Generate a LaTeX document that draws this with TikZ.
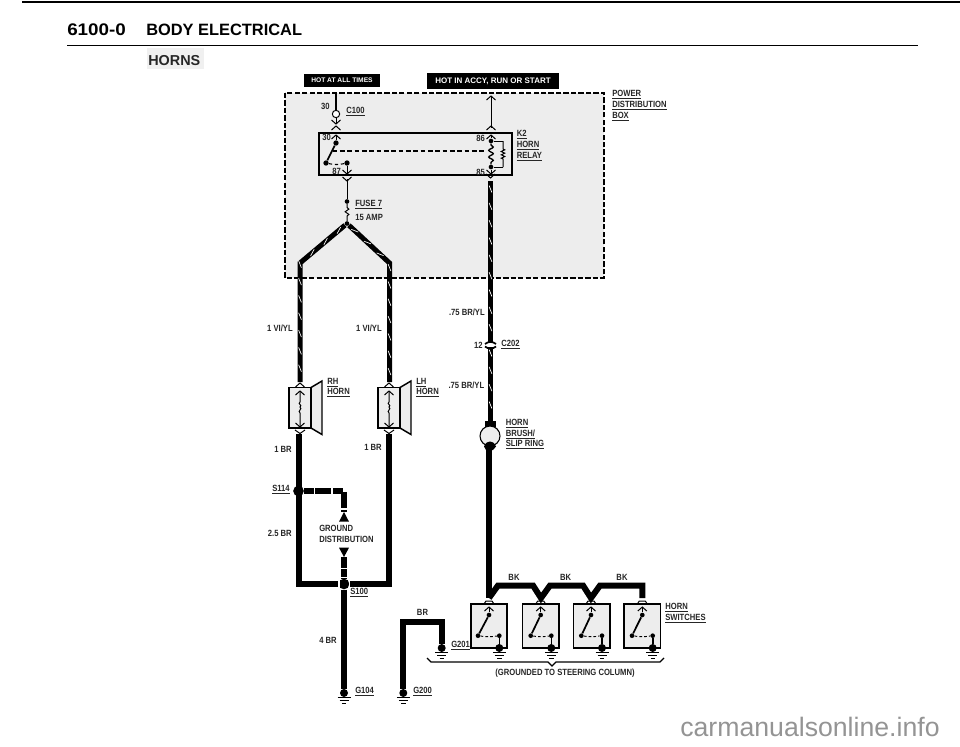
\documentclass[tikz,border=0pt]{standalone}
\usepackage{fontspec}
\setmainfont{Liberation Sans}
\newfontfamily\labf{Liberation Sans}[FakeStretch=.85]
\newfontfamily\numf{Liberation Sans}[FakeStretch=1.12]
\usetikzlibrary{decorations.markings,decorations.pathmorphing}
\definecolor{boxgray}{gray}{.93}
\definecolor{wm}{gray}{.58}
\tikzset{
  thin wire/.style={line width=.75pt,black},
  solid wire/.style={line width=4.5pt,black,line join=miter},
  stripe wire/.style={line width=3.75pt,black,postaction={decorate},decoration={markings,
     mark=between positions 6pt and -3pt step 13pt with {\draw[white,line width=.5pt] (-3.5,1.4)--(3.5,-1.4);}}},
  lbl/.style={font=\labf\bfseries\fontsize{6.75pt}{7pt}\selectfont,inner sep=0pt,text=black!85},
  dot/.style={circle,fill=black,inner sep=0pt,minimum size=#1},
  gbar/.style={line width=.75pt},
  framebox/.style={draw=black,line width=1.1pt,fill=boxgray},
  tag/.style={fill=black,text=white,inner sep=0pt,font=\bfseries\fontsize{#1}{#1}\selectfont}
}
\newcommand\lb[4][west]{\node[lbl,anchor=#1] (#2) at (#3) {#4};}
\newcommand\ulb[4][west]{\node[lbl,anchor=#1] (#2) at (#3) {\underline{#4}};}
\newcommand\chvu[2]{\draw[thin wire] (#1-4.5,#2+4)--(#1,#2)--(#1+4.5,#2+4);}
\newcommand\chvd[2]{\draw[thin wire] (#1-4.5,#2-4)--(#1,#2)--(#1+4.5,#2-4);}
\newcommand\gnd[3]{% name x y(centre of dot)
  \node[dot=6pt] (#1) at (#2,#3) {};
  \draw[gbar] (#2-6.5,#3+4.5)--(#2+6.5,#3+4.5);
  \draw[gbar] (#2-4.5,#3+7.5)--(#2+4.5,#3+7.5);
  \draw[gbar] (#2-2.2,#3+10.5)--(#2+2.2,#3+10.5);}
\begin{document}
\begin{tikzpicture}[x=.75pt,y=-.75pt]
\useasboundingbox (0,0) rectangle (960,746);
% header
\coordinate (r1a) at (22,2); \coordinate (r1b) at (960,2);
\draw[line width=1.6pt] (r1a)--(r1b);
\node[anchor=west,inner sep=0pt,font=\numf\bfseries\fontsize{12.6pt}{15pt}\selectfont] (title0) at (67,30) {6100-0};
\node[anchor=west,inner sep=0pt,font=\bfseries\fontsize{12.3pt}{13pt}\selectfont] (title) at (146,30) {BODY ELECTRICAL};
\coordinate (r2a) at (67,45.5); \coordinate (r2b) at (918,45.5);
\draw[line width=1.1pt] (r2a)--(r2b);
\fill[gray!12] (147,48) rectangle (204,69);
\node[anchor=west,inner sep=0pt,font=\bfseries\fontsize{10.8pt}{11pt}\selectfont,text=black!85] (horns) at (148,61) {HORNS};
% top tags
\node[tag=5pt,minimum width=57pt,minimum height=9.6pt] (hot1) at (342,80.5) {HOT AT ALL TIMES};
\node[tag=6pt,minimum width=99pt,minimum height=12pt] (hot2) at (493,81) {HOT IN ACCY, RUN OR START};
% power distribution box
\draw[fill=boxgray,draw=black,line width=1.2pt,dash pattern=on 4pt off 1.6pt] (285,93) rectangle (604,278);
\coordinate (pdbtopL) at (336,93);
\coordinate (pdbtopR) at (491,96);
\ulb{pd1}{612,95}{POWER}\ulb{pd2}{612,105.5}{DISTRIBUTION}\ulb{pd3}{612,117}{BOX}
% C100
\node[circle,draw=black,fill=white,line width=.75pt,inner sep=0pt,minimum size=5.5pt] (c100) at (336,114) {};
\coordinate (c100b) at (336,124);
\draw[line width=1pt] (pdbtopL)--(c100);
\draw[thin wire] (c100)--(c100b);
\chvd{336}{124}\chvu{336}{126}
\lb[east]{t30a}{330,106}{30}
\ulb{lc100}{346,112}{C100}
% right feed
\coordinate (k2in) at (491,128);
\draw[thin wire] (pdbtopR)--(k2in);
\chvu{491}{96}\chvu{491}{126}
% relay
\draw[draw=black,line width=1.1pt,fill=boxgray] (319,133) rectangle (512,175);
\ulb{k1}{516.5,135}{K2}\ulb{k2}{516.5,146}{HORN}\ulb{k3}{516.5,157}{RELAY}
\lb{t30b}{322,137}{30}\lb{t86}{476,138.5}{86}\lb{t85}{476,172}{85}\lb{t87}{332,171.5}{87}
% switch in relay
\node[dot=4pt] (s1) at (336,143) {};
\node[dot=4pt] (s2) at (326,163) {};
\node[dot=4pt] (s3) at (347,163) {};
\coordinate (r30) at (336,135); \coordinate (r87) at (347,174);
\coordinate (armm) at (332.5,151); \coordinate (dashe) at (486,151);
\draw[thin wire] (r30)--(s1);
\chvu{336}{135}
\draw[line width=1.3pt] (s1)--(s2);
\draw[line width=.8pt,dash pattern=on 2.5pt off 2pt] (s2) to[bend right=12] (s3);
\draw[thin wire] (s3)--(r87);
\chvd{347}{174}
\draw[line width=.8pt,dash pattern=on 3.5pt off 2pt] (armm)--(dashe);
% coil
\node[dot=3.5pt] (c1) at (491,141) {};
\node[dot=3.5pt] (c2) at (491,167) {};
\coordinate (r86) at (491,135); \coordinate (r85) at (491,174);
\coordinate (par1) at (503,141); \coordinate (par2) at (503,167);
\draw[thin wire] (r86)--(c1) (c2)--(r85);
\chvu{491}{135}\chvd{491}{174}
\draw[line width=1pt,decorate,decoration={snake,segment length=5pt,amplitude=1.7pt,pre length=1pt,post length=1pt}] (c1)--(c2);
\draw[thin wire] (c1)--(par1);
\draw[thin wire,decorate,decoration={zigzag,segment length=2.5pt,amplitude=1.3pt,pre length=6pt,post length=6pt}] (par1)--(par2);
\draw[thin wire] (par2)--(c2);
% fuse
\chvd{347}{181}
\node[dot=3.5pt] (f1) at (347,201.5) {};
\node[dot=3.5pt] (f2) at (347,223.5) {};
\coordinate (k87o) at (347,179);
\draw[thin wire] (k87o)--(f1);
\draw[thin wire,decorate,decoration={snake,segment length=4pt,amplitude=1.4pt,pre length=2.5pt,post length=2pt}] (f1)--(f2);
\ulb{lf}{355,205}{FUSE 7}\lb{la}{355,217}{15 AMP}
% horn feeds
\coordinate (bL) at (300,263); \coordinate (bR) at (389.5,263);
\coordinate (hL) at (300,382); \coordinate (hR) at (389.5,382);
\draw[stripe wire,line join=miter] (f2)--(bL)--(hL);
\draw[stripe wire,line join=miter] (f2)--(bR)--(hR);
\lb[east]{w1}{293,328}{1 VI/YL}\lb[east]{w2}{382,328}{1 VI/YL}
% relay output wire
\coordinate (k85o) at (490.5,181);
\coordinate (c202) at (490.5,345);
\coordinate (brush) at (490.5,421);
\draw[stripe wire] (k85o)--(c202);
\draw[stripe wire] (c202)--(brush);
\chvd{490.5}{178}
\node[fill=white,inner sep=0pt,minimum width=7pt,minimum height=2.5pt] (c202n) at (c202) {};
\draw[line width=1.3pt] (485,344) to[bend left=40] (496,344);
\draw[line width=1.3pt] (485,346.5) to[bend right=40] (496,346.5);
\lb[east]{t12}{483,345}{12}\ulb{lc202}{501,345}{C202}
\lb[east]{w3}{485,312}{.75 BR/YL}\lb[east]{w4}{484.5,385}{.75 BR/YL}
% brush
\node[fill=black,inner sep=0pt,minimum width=8pt,minimum height=5pt] (bb) at (490.5,424) {};
\node[circle,draw=black,fill=boxgray,line width=.8pt,inner sep=0pt,minimum size=15pt] (bc) at (490,436) {};
\ulb{b1}{505.5,423.5}{HORN}\ulb{b2}{505.5,434.5}{BRUSH/}\ulb{b3}{505.5,445}{SLIP RING}
% horns
\foreach \l/\r/\f/\n in {289/311/322/RH,378/400/411/LH}{
  \draw[framebox] (\r,387.5)--(\f,381)--(\f,434.5)--(\r,428)--cycle;
  \draw[framebox] (\l,387.5) rectangle (\r,428);
}
\foreach \m/\n in {300/hr,389/hl}{
  \chvu{\m}{383}
  \chvu{\m}{391}\chvd{\m}{427}
  \draw[thin wire] (\m,391)--(\m,402) .. controls (\m-3,404) and (\m+3,405) .. (\m,407) .. controls (\m+3,409) and (\m-3,411) .. (\m,413)--(\m,427);
  \draw[thin wire] (\m-5,430)--(\m,433.5)--(\m+5,430);
}
\ulb{hr1}{327,383}{RH}\ulb{hr2}{327,393}{HORN}
\ulb{hl1}{416,383}{LH}\ulb{hl2}{416,393}{HORN}
% ground wiring
\coordinate (gL0) at (298.5,434); \coordinate (gLc) at (298.5,584);
\coordinate (gR0) at (389,434); \coordinate (gRc) at (389,584);
\node[dot=8pt] (s114) at (298.5,491) {};
\node[dot=8pt] (s100) at (344,584) {};
\draw[solid wire] (gL0)--(gLc)--(s100);
\draw[solid wire] (gR0)--(gRc)--(s100);
\draw[white,line width=.8pt] (339,580)--(339,588) (349.5,580)--(349.5,588);
\coordinate (sc) at (344,491);
\coordinate (ta) at (344,512);
\coordinate (tb) at (344,557);
\draw[solid wire,dash pattern=on 7.5pt off 1pt on 12pt off 1.5pt] (s114)--(sc)--(ta);
\fill (339,521.7)--(349,521.7)--(344,512)--cycle;
\fill (339,547.7)--(349,547.7)--(344,557)--cycle;
\draw[solid wire,dash pattern=on 8pt off 1pt on 6pt off 1pt] (tb)--(s100);
\lb{gd1}{319,528.5}{GROUND}\lb{gd2}{319,539.5}{DISTRIBUTION}
\ulb[east]{ls114}{290,490}{S114}
\ulb{ls100}{350,593}{S100}
\lb[east]{w5}{292,449.5}{1 BR}\lb[east]{w6}{382,447.5}{1 BR}
\lb[east]{w7}{292,533.5}{2.5 BR}\lb[east]{w8}{337,640}{4 BR}
\gnd{g104}{344}{693}
\draw[solid wire] (s100)--(g104);
\ulb{lg104}{355,692}{G104}
% G200/G201
\gnd{g200}{403.3}{693}
\gnd{g201}{441.7}{648}
\coordinate (j1) at (403.3,622); \coordinate (j2) at (441.7,622);
\draw[solid wire] (g200)--(j1)--(j2)--(g201);
\ulb{lg200}{413,692}{G200}\ulb{lg201}{451,646}{G201}
\lb[south]{wbr}{422.5,616}{BR}
% horn switches
\foreach \a/\b/\c/\d/\e/\n in {471/507/489/478/499.3/a,522.7/559/540.7/530.7/551.3/b,573.7/610/591/581.3/602/c,624/660.7/642.3/632/652.7/d}{
  \draw[framebox] (\a,604) rectangle (\b,648);
  \node[dot=3.5pt] (p\n) at (\c,615) {};
  \node[dot=3.5pt] (q\n) at (\d,635.7) {};
  \node[dot=3.5pt] (u\n) at (\e,635.7) {};
  \coordinate (top\n) at (\c,607);
  \draw[thin wire] (top\n)--(p\n);
  \chvu{\c}{607}
  \draw[line width=1.3pt] (p\n)--(q\n);
  \draw[line width=.7pt,dash pattern=on 2pt off 1.6pt] (q\n) to[bend right=8] (u\n);
  \gnd{v\n}{\e}{648}
  \draw[line width=1.2pt] (u\n)--(v\n);
}
% BK wire
\coordinate (bka) at (489,447);
\coordinate (bkb) at (489,598);
\draw[solid wire] (bka)--(bkb);
\fill (484,446.5)..controls (485.5,442.5) and (488,441.5)..(490,441.5)..controls (492,441.5) and (494.5,442.5)..(496,446.5)--(493,450)--(486,450)--cycle;
\coordinate (n1) at (498,585.5); \coordinate (n2) at (533,585.5);
\coordinate (n3) at (541,598); \coordinate (n4) at (550,585.5);
\coordinate (n5) at (583,585.5); \coordinate (n6) at (591,598);
\coordinate (n7) at (600,585.5); \coordinate (n8) at (642.3,585.5);
\coordinate (n9) at (642.3,598);
\draw[solid wire] (bkb)--(n1)--(n2)--(n3)--(n4)--(n5)--(n6)--(n7)--(n8)--(n9);
\foreach \c in {489,540.7,591,642.3}{\draw[thin wire] (\c-5,604)--(\c-3,601)--(\c+3,601)--(\c+5,604);}
\lb[south]{bk1}{514,580.5}{BK}\lb[south]{bk2}{565.7,580.5}{BK}\lb[south]{bk3}{622,580.5}{BK}
\ulb{sw1}{665,608}{HORN}\ulb{sw2}{665,619}{SWITCHES}
% brace
\coordinate (br1) at (427,658); \coordinate (br2) at (431,662);
\coordinate (br3) at (548,662); \coordinate (br4) at (552,666);
\coordinate (br5) at (556,662); \coordinate (br6) at (660,662); \coordinate (br7) at (664,658);
\draw[line width=1pt] (br1)--(br2)--(br3)--(br4)--(br5)--(br6)--(br7);
\lb[center]{note}{565,672.7}{(GROUNDED TO STEERING COLUMN)}
% watermark
\node[anchor=base west,inner sep=0pt,font=\fontsize{20pt}{22pt}\selectfont,text=wm] (wmark) at (680,736) {carmanualsonline.info};
\end{tikzpicture}
\end{document}
